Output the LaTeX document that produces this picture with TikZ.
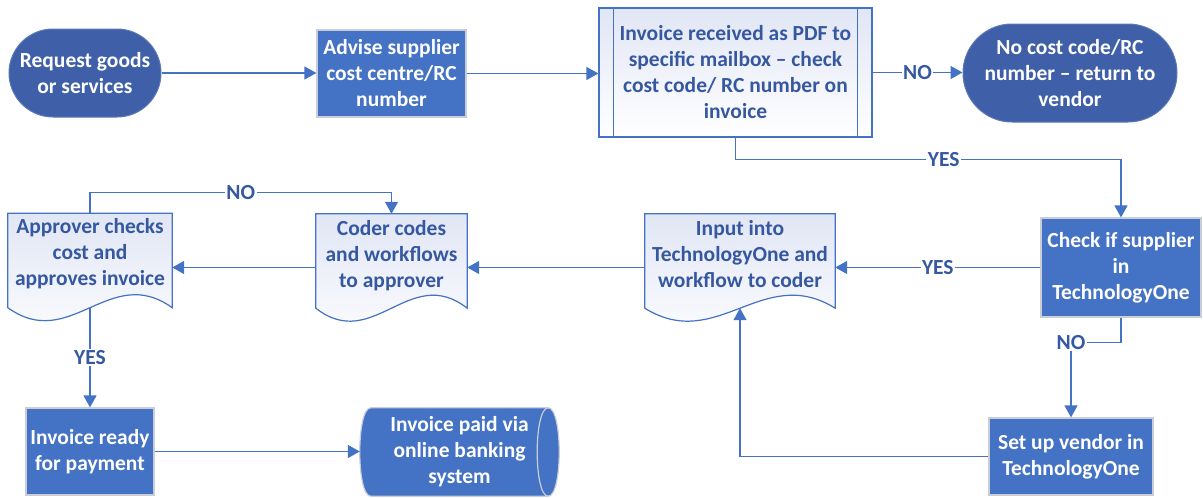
\documentclass[tikz,border=0pt]{standalone}
\usepackage{fontspec}
\setmainfont{Carlito}
\usetikzlibrary{arrows.meta,calc,backgrounds}
\definecolor{lineblue}{HTML}{4472C4}
\definecolor{termblue}{HTML}{3F60A9}
\definecolor{boxblue}{HTML}{4472C4}
\definecolor{txtblue}{HTML}{3558A0}
\definecolor{docfill}{HTML}{E1E6F5}
\definecolor{boxedge}{HTML}{C9CDD6}
\newcommand\docoutline[1]{%
  \draw[docline] (#1.north west) -- (#1.north east) -- ($(#1.south east)+(0,-13)$)
    .. controls ($(#1.south west)!0.62!(#1.south east)+(0,-58)$) and ($(#1.south west)!0.38!(#1.south east)+(0,32)$) ..
    ($(#1.south west)+(0,-13)$) -- cycle;}
\begin{document}
\begin{tikzpicture}[x=1pt,y=-1pt,
  base/.style={font=\fontsize{21.5}{26}\selectfont\bfseries, align=center, inner sep=0pt},
  term/.style={base, fill=termblue, draw=termblue!85!white, line width=1pt, text=white},
  proc/.style={base, fill=boxblue, draw=boxedge, line width=1.2pt, text=white},
  docnode/.style={base, text=txtblue},
  arr/.style={draw=lineblue, line width=1.3pt, -{Triangle[length=12pt,width=13pt]}},
  lab/.style={font=\fontsize{21.5}{24}\selectfont\bfseries, text=txtblue, fill=white, inner sep=1.5pt},
  docline/.style={draw=lineblue, line width=1.2pt, top color=docfill, bottom color=white}
]
\useasboundingbox (0,0) rectangle (1203,498);

% top row
\node[term, minimum width=152pt, minimum height=88pt, rounded corners=44pt] (req) at (85,73) {Request goods\\or services};
\node[proc, minimum width=149pt, minimum height=87pt] (adv) at (391.5,73.5) {Advise supplier\\cost centre/RC\\number};
\node[base, text=txtblue, draw=lineblue, line width=1.2pt, top color=docfill, bottom color=white, minimum width=273pt, minimum height=129pt] (inv) at (735.5,72.5) {Invoice received as PDF to\\specific mailbox -- check\\cost code/ RC number on\\invoice};
\draw[lineblue, line width=1.2pt] ($(inv.north west)+(15,0)$) -- ($(inv.south west)+(15,0)$);
\draw[lineblue, line width=1.2pt] ($(inv.north east)+(-15,0)$) -- ($(inv.south east)+(-15,0)$);
\node[term, minimum width=214pt, minimum height=98pt, rounded corners=49pt] (nocost) at (1070,73) {No cost code/RC\\number -- return to\\vendor};

% middle row
\node[proc, minimum width=160pt, minimum height=99pt] (check) at (1121,267.5) {Check if supplier\\in\\TechnologyOne};
\node[docnode, minimum width=190pt, minimum height=107pt] (input) at (740,267.5) {};
\node[docnode, minimum width=151pt, minimum height=107pt] (coder) at (391.5,267.5) {};
\node[docnode, minimum width=164pt, minimum height=107pt] (appr) at (90,267) {};
\docoutline{input}
\docoutline{coder}
\docoutline{appr}
\node[docnode] (input-t) at ($(input.center)+(0,-13)$) {Input into\\TechnologyOne and\\workflow to coder};
\node[docnode] (coder-t) at ($(coder.center)+(0,-12)$) {Coder codes\\and workflows\\to approver};
\node[docnode] (appr-t) at ($(appr.center)+(0,-13)$) {Approver checks\\cost and\\approves invoice};
\coordinate (inwave) at ($(input.south)+(0,-13)$);
\coordinate (apwave) at ($(appr.south)+(0,-13)$);

% bottom row
\node[proc, minimum width=128pt, minimum height=87pt] (ready) at (90,451.5) {Invoice ready\\for payment};
\node[base, text=white, minimum width=199pt, minimum height=88pt] (paid) at (459.5,452) {Invoice paid via\\online banking\\system};
\begin{scope}[on background layer]
\draw[fill=boxblue, draw=boxedge, line width=1.2pt]
  ($(paid.north west)+(11,0)$) -- ($(paid.north east)+(-11,0)$)
  .. controls ($(paid.north east)+(3.7,0)$) and ($(paid.south east)+(3.7,0)$) .. ($(paid.south east)+(-11,0)$)
  -- ($(paid.south west)+(11,0)$)
  .. controls ($(paid.south west)+(-3.7,0)$) and ($(paid.north west)+(-3.7,0)$) .. cycle;
\draw[boxedge, line width=1.2pt] ($(paid.north east)+(-11,0)$) .. controls ($(paid.north east)+(-25.7,0)$) and ($(paid.south east)+(-25.7,0)$) .. ($(paid.south east)+(-11,0)$);
\end{scope}
\node[proc, minimum width=164pt, minimum height=77pt] (setup) at (1071,456.5) {Set up vendor in\\TechnologyOne};

% connectors
\draw[arr] (req.east) -- (req.east -| adv.west);
\draw[arr] (adv.east) -- (adv.east -| inv.west);
\draw[arr] (inv.east) -- node[lab]{NO} (inv.east -| nocost.west);
\draw[arr] (inv.south) -- ++(0,22) -| node[lab,pos=0.27]{YES} (check.north);
\draw[arr] (check.west) -- node[lab]{YES} (check.west -| input.east);
\draw[arr] (check.south) -- ++(0,25) -| node[lab,pos=0.5]{NO} (setup.north);
\draw[arr] (setup.west) -| (inwave);
\draw[arr] (input.west) -- (input.west -| coder.east);
\draw[arr] (coder.west) -- (coder.west -| appr.east);
\draw[arr] (appr.north) -- ++(0,-21) -| node[lab,pos=0.25]{NO} (coder.north);
\draw[arr] (apwave) -- node[lab]{YES} (ready.north);
\draw[arr] (ready.east) -- (ready.east -| paid.west);
\end{tikzpicture}
\end{document}
